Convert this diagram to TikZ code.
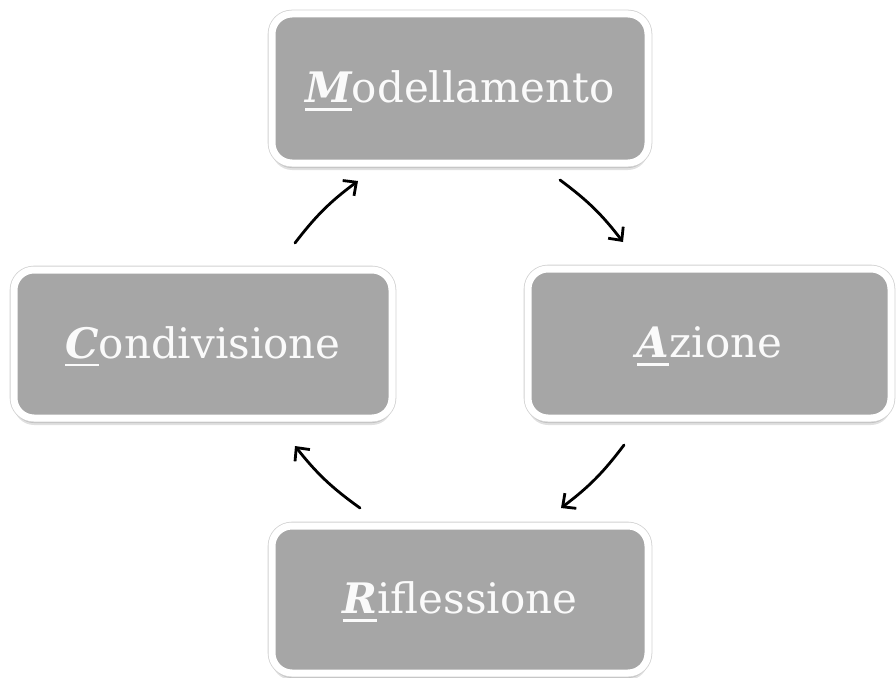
\documentclass[tikz,border=0pt]{standalone}
\usepackage{fontspec}
\setmainfont{DejaVu Serif}
\usetikzlibrary{arrows.meta,shadows}
\definecolor{boxgray}{HTML}{A6A6A6}
\definecolor{edgegray}{HTML}{D2D2D2}
\definecolor{txtwhite}{HTML}{FAFAFA}
\newcommand{\stageinit}[1]{\setbox0\hbox{\bfseries\itshape #1}\rlap{\rule[-8pt]{\wd0}{2.4pt}}\box0}
\begin{document}
\begin{tikzpicture}[x=1pt,y=-1pt,
  stagebox/.style={rounded corners=20pt, fill=boxgray, draw=white, line width=7pt,
    drop shadow={shadow xshift=0pt, shadow yshift=-7pt, opacity=0.12, fill=black},
    drop shadow={shadow xshift=0pt, shadow yshift=-5pt, opacity=0.15, fill=black},
    drop shadow={shadow xshift=0pt, shadow yshift=-3pt, opacity=0.2, fill=black},
    preaction={draw=edgegray, line width=8.6pt},
    text=txtwhite, font=\fontsize{42}{50}\selectfont, inner sep=0pt,
    text height=28pt, text depth=0pt},
  cyc/.style={line width=2.8pt, line cap=round, -{Straight Barb[length=10pt,width=19pt]}, bend left=8}
]
\useasboundingbox (0,0) rectangle (896,677);
\node[stagebox, minimum width=376pt, minimum height=149pt] (M) at (460,88.5) {\stageinit{M}odellamento};
\node[stagebox, minimum width=378pt, minimum height=148pt] (C) at (203,344) {\stageinit{C}ondivisione};
\node[stagebox, minimum width=363pt, minimum height=149pt] (A) at (709.5,343.5) {\stageinit{A}zione};
\node[stagebox, minimum width=376pt, minimum height=147pt] (R) at (460,599.5) {\stageinit{R}iflessione};
\coordinate (c1s) at (295,243);
\coordinate (c1e) at (358,181);
\coordinate (m1s) at (560,180);
\coordinate (m1e) at (623,242);
\coordinate (a1s) at (624,445);
\coordinate (a1e) at (561,508);
\coordinate (r1s) at (360,508);
\coordinate (r1e) at (295,446);
\draw[cyc] (c1s) to (c1e);
\draw[cyc] (m1s) to (m1e);
\draw[cyc] (a1s) to (a1e);
\draw[cyc] (r1s) to (r1e);
\end{tikzpicture}
\end{document}
